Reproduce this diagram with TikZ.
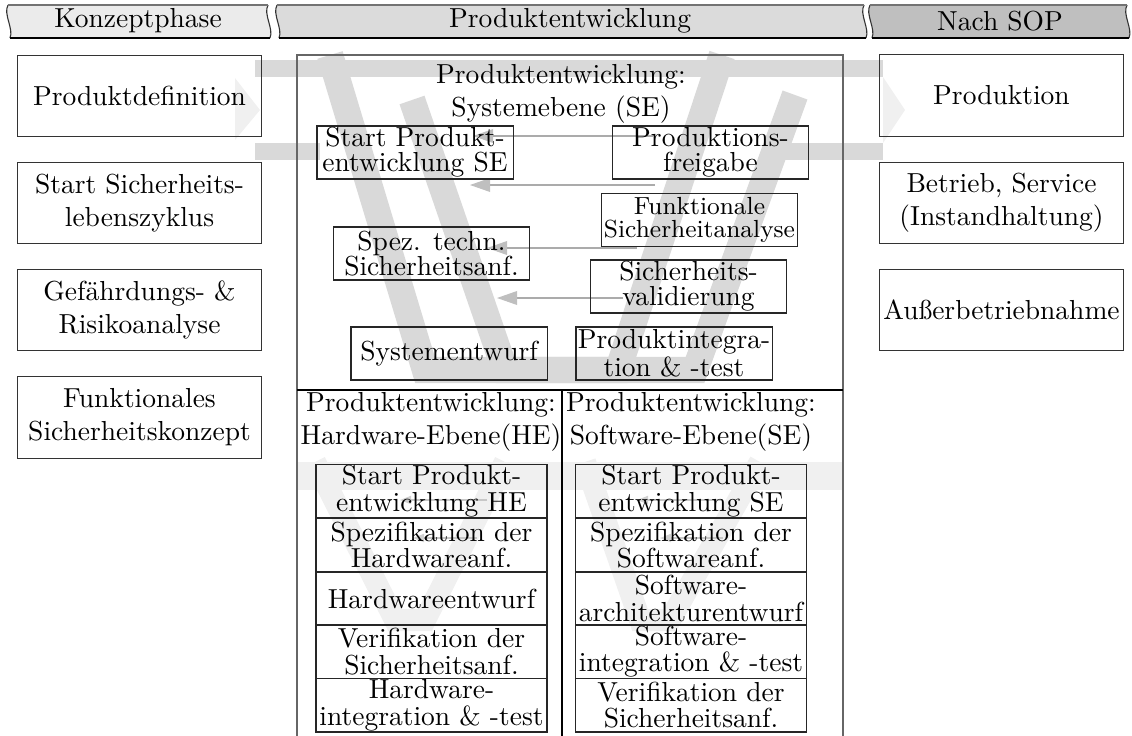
\documentclass[tikz,border=0pt]{standalone}
\usepackage{fontspec}
\usetikzlibrary{arrows.meta}
\pgfdeclarelayer{background}
\pgfsetlayers{background,main}

% one segment of the phase ribbon: left x, right x, fill colour
\newcommand\headseg[3]{%
  \fill[#3] (#1,5) .. controls (#1-5,14) and (#1+6,29) .. (#1+2,38)
    -- (#2+2,38) .. controls (#2+6,29) and (#2-5,14) .. (#2,5) -- cycle;
  \draw[black!80, line width=0.4pt] (#1,5) .. controls (#1-5,14) and (#1+6,29) .. (#1+2,38);
  \draw[black!80, line width=0.4pt] (#2,5) .. controls (#2-5,14) and (#2+6,29) .. (#2+2,38);
  \draw[black!55, line width=0.6pt] (#1,5) -- (#2,5);
  \draw[black, line width=0.9pt] (#1+2,38) -- (#2+2,38);
}

\begin{document}
\begin{tikzpicture}[x=0.3636pt, y=-0.3636pt,
  headtext/.style={inner sep=0pt},
  colbox/.style={draw=black!80, minimum width=89pt, minimum height=29.5pt,
    inner sep=1pt, align=center},
  sebox/.style={draw=black!85, minimum width=71.3pt, minimum height=19.3pt,
    inner sep=0.5pt, align=center, font=\fontsize{10}{9}\selectfont},
  stackbox/.style={draw=black!85, minimum width=84pt, minimum height=19.6pt,
    inner sep=0pt, align=center, font=\fontsize{10}{9.7}\selectfont},
  titletext/.style={align=center, inner sep=0pt},
  vstroke/.style={draw=black!15, line width=9.6pt, line join=miter},
  vfaint/.style={draw=black!6, line width=8pt, line join=miter},
  garrow/.style={draw=black!33, line width=0.4pt,
    -{Triangle[length=7.3pt, width=5pt, color=black!25]}},
  sarrow/.style={draw=black!22, line width=0.4pt,
    -{Triangle[length=4pt, width=3pt, color=black!18]}}
]
\useasboundingbox (0,0) rectangle (1132,735);

% ---------- phase ribbon ----------
\headseg{8}{268}{black!8}
\headseg{277}{864}{black!14}
\headseg{870}{1127}{black!25}
\node[headtext] (hk) at (138,21) {Konzeptphase};
\node[headtext] (hp) at (570,21) {Produktentwicklung};
\node[headtext] (hs) at (1000,21) {Nach SOP};

% ---------- concept phase ----------
\node[colbox] (pd) at (139.5,96)  {Produktdefinition};
\node[colbox] (ss) at (139.5,203) {Start Sicherheits-\\lebenszyklus};
\node[colbox] (gr) at (139.5,310) {Gefährdungs- \&\\Risikoanalyse};
\node[colbox] (fs) at (139.5,417.5) {Funktionales\\Sicherheitskonzept};

% ---------- after SOP ----------
\node[colbox] (pr) at (1001.5,95.5) {Produktion};
\node[colbox] (bs) at (1001.5,203)  {Betrieb, Service\\(Instandhaltung)};
\node[colbox] (ab) at (1001.5,310)  {Außerbetriebnahme};

% ---------- product development frame ----------
\draw[black!60, line width=0.7pt] (297,55) rectangle (843,745);
\draw[black, line width=0.5pt] (297,390) -- (843,390);
\draw[black, line width=0.5pt] (562,390) -- (562,745);

% system level
\node[titletext] (set) at (561,94) {Produktentwicklung:\\Systemebene (SE)};
\node[sebox] (sse)  at (415,152.5)   {Start Produkt-\\entwicklung SE};
\node[sebox] (pfg)  at (710.5,152.5) {Produktions-\\freigabe};
\node[sebox, font=\fontsize{9}{8.5}\selectfont] (fsa) at (699.5,220)
  {Funktionale\\Sicherheitanalyse};
\node[sebox] (sta)  at (431.5,253.5) {Spez. techn.\\Sicherheitsanf.};
\node[sebox] (sval) at (688.5,286.5) {Sicherheits-\\validierung};
\node[sebox] (sys)  at (449,353.5)   {Systementwurf};
\node[sebox] (pit)  at (674,353.5)   {Produktintegra-\\tion \& -test};

% hardware level
\node[titletext] (het) at (431,422) {Produktentwicklung:\\Hardware-Ebene(HE)};
\node[stackbox] (h1) at (431.5,491)   {Start Produkt-\\entwicklung HE};
\node[stackbox] (h2) at (431.5,545)   {Spezifikation der\\Hardwareanf.};
\node[stackbox] (h3) at (431.5,598.5) {Hardwareentwurf};
\node[stackbox] (h4) at (431.5,651.5) {Verifikation der\\Sicherheitsanf.};
\node[stackbox] (h5) at (431.5,705)   {Hardware-\\integration \& -test};

% software level
\node[titletext] (swt) at (691,422) {Produktentwicklung:\\Software-Ebene(SE)};
\node[stackbox] (s1) at (691,491)   {Start Produkt-\\entwicklung SE};
\node[stackbox] (s2) at (691,545)   {Spezifikation der\\Softwareanf.};
\node[stackbox] (s3) at (691,598.5) {Software-\\architekturentwurf};
\node[stackbox] (s4) at (691,651.5) {Software-\\integration \& -test};
\node[stackbox] (s5) at (691,705)   {Verifikation der\\Sicherheitsanf.};

% ends of the return arrows
\coordinate (r1s) at (653,136); \coordinate (r1e) at (473,136);
\coordinate (r2s) at (655,185); \coordinate (r2e) at (470,185);
\coordinate (r3s) at (637,248); \coordinate (r3e) at (487,248);
\coordinate (r4s) at (623,298); \coordinate (r4e) at (497,298);
\coordinate (h1s) at (487,500); \coordinate (h1e) at (400,500);
\coordinate (h2s) at (477,538); \coordinate (h2e) at (413,538);
\coordinate (w1s) at (723,500); \coordinate (w1e) at (637,500);
\coordinate (w2s) at (723,538); \coordinate (w2e) at (660,538);

% ---------- grey V-model backdrop ----------
\begin{pgfonlayer}{background}
  % horizontal ribbon
  \fill[black!15] (255,60) rectangle (883,77);
  \fill[black!15] (255,143) rectangle (320,160);
  \fill[black!15] (785,143) rectangle (883,160);
  \fill[black!6] (235,78) -- (260,110) -- (235,140) -- cycle;
  \fill[black!6] (883,77) -- (905,110) -- (883,143) -- cycle;
  % system-level V
  \begin{scope}
    \clip (250,50) rectangle (910,390);
    \draw[vstroke] (330,55) -- (425,370) -- (695,370) -- (795,95);
    \draw[vstroke] (412,100) -- (505,370) -- (618,370) -- (722,55);
  \end{scope}
  % hardware / software Vs
  \begin{scope}
    \clip (297,390) rectangle (843,735);
    \fill[black!6] (297,462) rectangle (843,490);
    \draw[vfaint] (315,462) -- (395,620) -- (425,620) -- (505,462);
    \draw[vfaint] (585,462) -- (640,620) -- (670,620) -- (760,462);
  \end{scope}
  % return arrows
  \draw[garrow] (r1s) -- (r1e);
  \draw[garrow] (r2s) -- (r2e);
  \draw[garrow] (r3s) -- (r3e);
  \draw[garrow] (r4s) -- (r4e);
  \draw[sarrow] (h1s) -- (h1e);
  \draw[sarrow] (h2s) -- (h2e);
  \draw[sarrow] (w1s) -- (w1e);
  \draw[sarrow] (w2s) -- (w2e);
\end{pgfonlayer}
\end{tikzpicture}
\end{document}
